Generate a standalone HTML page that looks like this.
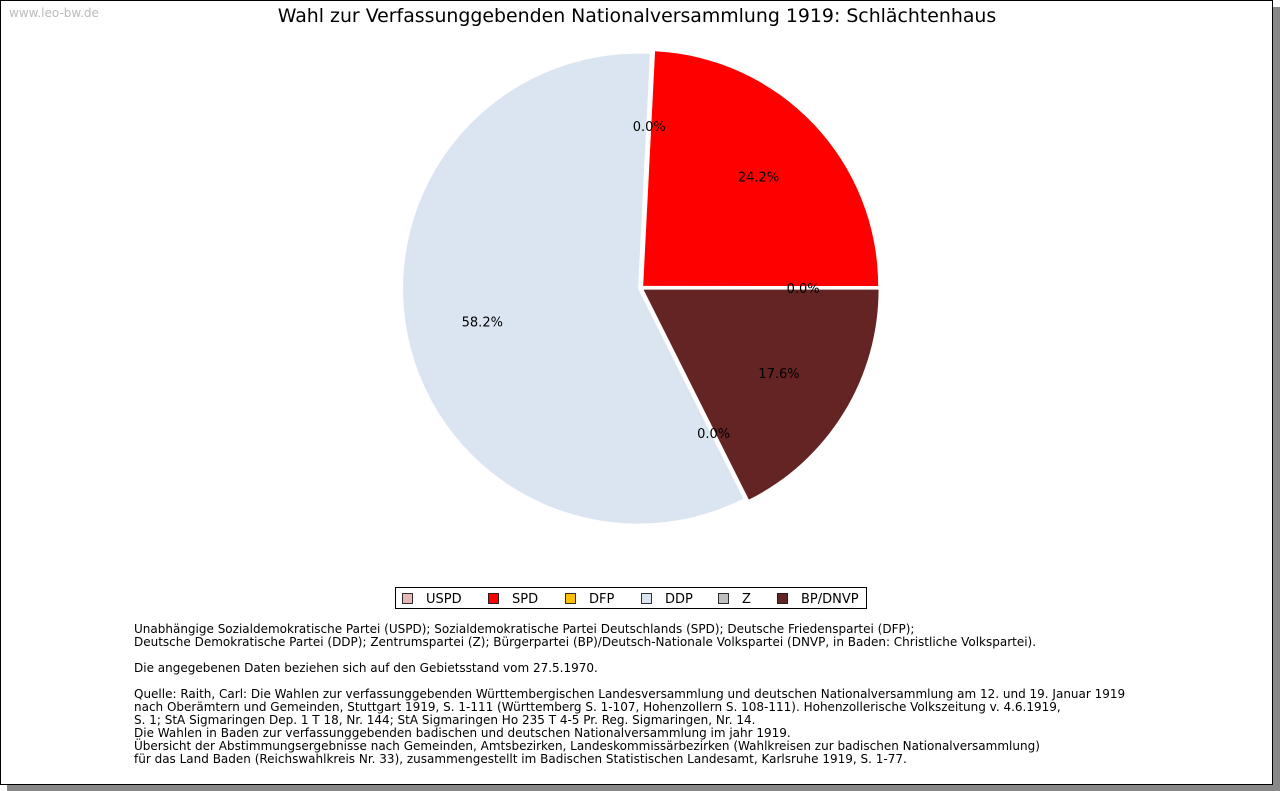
<!DOCTYPE html>
<html><head><meta charset="utf-8"><style>
body{margin:0;width:1280px;height:791px;background:#fff;font-family:"DejaVu Sans","Liberation Sans",sans-serif;overflow:hidden}
#frame{position:absolute;left:0;top:0;width:1271px;height:783px;border:1px solid #000;background:#fff;box-shadow:7px 7px 0 #888}
#wm{position:absolute;left:8px;top:5px;font-size:12px;color:#bbb}
#title{position:absolute;left:0;width:1272px;top:4px;text-align:center;font-size:18.9px;color:#000}
#notes{position:absolute;left:133px;top:622px;font-size:12px;line-height:13px;color:#000;white-space:pre}
</style></head><body>
<div id="frame">
<div id="wm">www.leo-bw.de</div>
<div id="title">Wahl zur Verfassunggebenden Nationalversammlung 1919: Schlächtenhaus</div>
<svg id="chart" width="1280" height="620" style="position:absolute;left:0;top:0"></svg>
<div id="notes">Unabhängige Sozialdemokratische Partei (USPD); Sozialdemokratische Partei Deutschlands (SPD); Deutsche Friedenspartei (DFP);
Deutsche Demokratische Partei (DDP); Zentrumspartei (Z); Bürgerpartei (BP)/Deutsch-Nationale Volkspartei (DNVP, in Baden: Christliche Volkspartei).

Die angegebenen Daten beziehen sich auf den Gebietsstand vom 27.5.1970.

Quelle: Raith, Carl: Die Wahlen zur verfassunggebenden Württembergischen Landesversammlung und deutschen Nationalversammlung am 12. und 19. Januar 1919
nach Oberämtern und Gemeinden, Stuttgart 1919, S. 1-111 (Württemberg S. 1-107, Hohenzollern S. 108-111). Hohenzollerische Volkszeitung v. 4.6.1919,
S. 1; StA Sigmaringen Dep. 1 T 18, Nr. 144; StA Sigmaringen Ho 235 T 4-5 Pr. Reg. Sigmaringen, Nr. 14.
Die Wahlen in Baden zur verfassunggebenden badischen und deutschen Nationalversammlung im jahr 1919.
Übersicht der Abstimmungsergebnisse nach Gemeinden, Amtsbezirken, Landeskommissärbezirken (Wahlkreisen zur badischen Nationalversammlung)
für das Land Baden (Reichswahlkreis Nr. 33), zusammengestellt im Badischen Statistischen Landesamt, Karlsruhe 1919, S. 1-77.</div>
</div>
<script>
// drawing order (counter-clockwise from just right of 12 o'clock)
const parties = ["USPD","DDP","Z","BP/DNVP","DFP","SPD"];
const shares = [0.0,58.2,0.0,17.6,0.0,24.2];
const colors = ["#e6b8b7","#dbe5f1","#c0c0c0","#632423","#ffc000","#ff0000"];
const legendParties = ["USPD","SPD","DFP","DDP","Z","BP/DNVP"];
const legendColors = ["#e6b8b7","#ff0000","#ffc000","#dbe5f1","#c0c0c0","#632423"];

const svg=document.getElementById('chart');
const NS="http://www.w3.org/2000/svg";
const cx=640,cy=287,r=235,ex=3,startAng=87.1;
const total=shares.reduce((a,b)=>a+b,0);
let ang=startAng;
function pt(a,d,ox,oy){const t=a*Math.PI/180;return [ox+d*Math.cos(t),oy-d*Math.sin(t)];}
shares.forEach((v,i)=>{
  const sweep=v/total*360, a0=ang, a1=ang+sweep, mid=(a0+a1)/2;
  const [ox,oy]=pt(mid,ex,cx,cy);
  if(sweep>0){
    const p0=pt(a0,r,ox,oy),p1=pt(a1,r,ox,oy);
    const path=document.createElementNS(NS,'path');
    path.setAttribute('d',`M${ox},${oy}L${p0[0]},${p0[1]}A${r},${r} 0 ${sweep>180?1:0} 0 ${p1[0]},${p1[1]}Z`);
    path.setAttribute('fill',colors[i]);
    
    
    svg.appendChild(path);
  }
  ang=a1;
});
ang=startAng;
shares.forEach((v,i)=>{
  const sweep=v/total*360, mid=ang+sweep/2;
  const [lx,ly]=pt(mid,0.69*r,cx,cy);
  const t=document.createElementNS(NS,'text');
  t.setAttribute('x',lx);t.setAttribute('y',ly+5);
  t.setAttribute('text-anchor','middle');t.setAttribute('font-size','13');
  t.textContent=v.toFixed(1)+'%';
  
  
  svg.appendChild(t);
  ang+=sweep;
});
// legend
const lg=document.createElementNS(NS,'g');


svg.appendChild(lg);
const box=document.createElementNS(NS,'rect');
box.setAttribute('x',394.5);box.setAttribute('y',586.5);box.setAttribute('width',471);box.setAttribute('height',21);
box.setAttribute('fill','#fff');box.setAttribute('stroke','#000');
lg.appendChild(box);
const xs=[401,487,564,640,717,776];
legendParties.forEach((p,i)=>{
  const s=document.createElementNS(NS,'rect');
  s.setAttribute('x',xs[i]+0.5);s.setAttribute('y',592.5);s.setAttribute('width',10);s.setAttribute('height',10);
  s.setAttribute('fill',legendColors[i]);s.setAttribute('stroke','#000');s.setAttribute('stroke-width','0.8');
  
  
  lg.appendChild(s);
  const t=document.createElementNS(NS,'text');
  t.setAttribute('x',xs[i]+24);t.setAttribute('y',602);t.setAttribute('font-size','13');
  t.textContent=p;
  
  
  lg.appendChild(t);
});
</script>
</body></html>
